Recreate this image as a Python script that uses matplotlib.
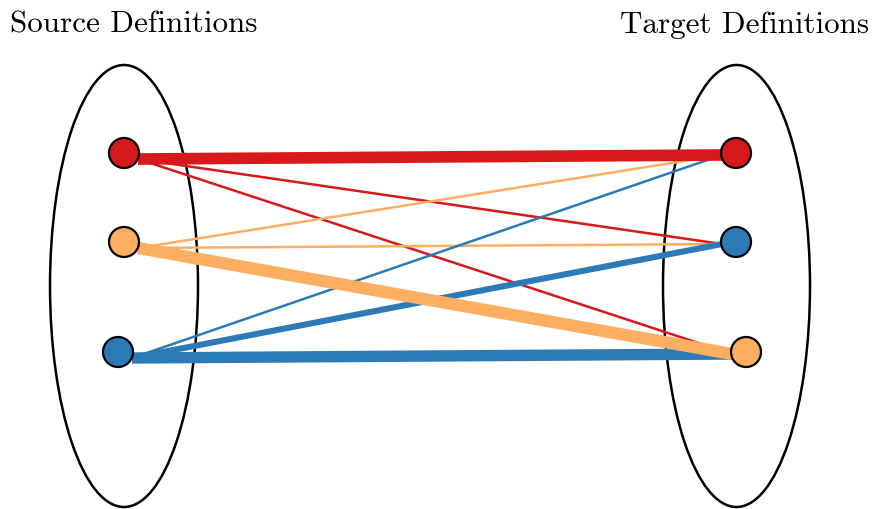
import matplotlib
matplotlib.use("Agg")
import matplotlib.pyplot as plt
from matplotlib.patches import Ellipse, Circle

# node positions (pixel-like units, y grows downward)
source_names = ["red", "orange", "blue"]
source_x = [124, 124, 118]
source_y = [153, 242, 352]
target_names = ["red", "blue", "orange"]
target_x = [736, 736, 746]
target_y = [153, 242, 352]

colors = {"red": "#d7191c", "orange": "#fdae61", "blue": "#2c7bb6"}

# edge weights (line widths in points), rows = source, cols = target
edge_weights = [
    [8.4, 1.8, 1.8],
    [1.8, 1.8, 8.8],
    [1.8, 4.4, 8.2],
]

node_r = 15
line_dy_src = 6
line_dy_tgt = 2

fig = plt.figure(figsize=(8.73, 5.09), dpi=100)
ax = fig.add_axes([0, 0, 1, 1])
ax.set_xlim(0, 873)
ax.set_ylim(509, 0)
ax.axis("off")

# group ellipses
ax.add_patch(Ellipse((124, 286), 148, 442, fill=False, ec="black", lw=1.8, zorder=1))
ax.add_patch(Ellipse((736.5, 286), 147, 442, fill=False, ec="black", lw=1.8, zorder=1))

# edges
for i, sname in enumerate(source_names):
    for j in range(len(target_names)):
        w = edge_weights[i][j]
        x0 = source_x[i] + node_r - 1
        x1 = target_x[j] - node_r + 1
        y0 = source_y[i] + line_dy_src
        y1 = target_y[j] + line_dy_tgt
        z = 2 + w / 10
        ax.plot([x0, x1], [y0, y1], color=colors[sname], lw=w,
                solid_capstyle="butt", zorder=z)

# nodes
for x, y, n in zip(source_x, source_y, source_names):
    ax.add_patch(Circle((x, y), node_r, fc=colors[n], ec="black", lw=1.6, zorder=5))
for x, y, n in zip(target_x, target_y, target_names):
    ax.add_patch(Circle((x, y), node_r, fc=colors[n], ec="black", lw=1.6, zorder=5))

ax.text(10, 25, "Source Definitions", fontfamily="cmr10", fontsize=22.4,
        ha="left", va="center")
ax.text(869, 25, "Target Definitions", fontfamily="cmr10", fontsize=22.4,
        ha="right", va="center")

fig.savefig("out.png", dpi=100)
